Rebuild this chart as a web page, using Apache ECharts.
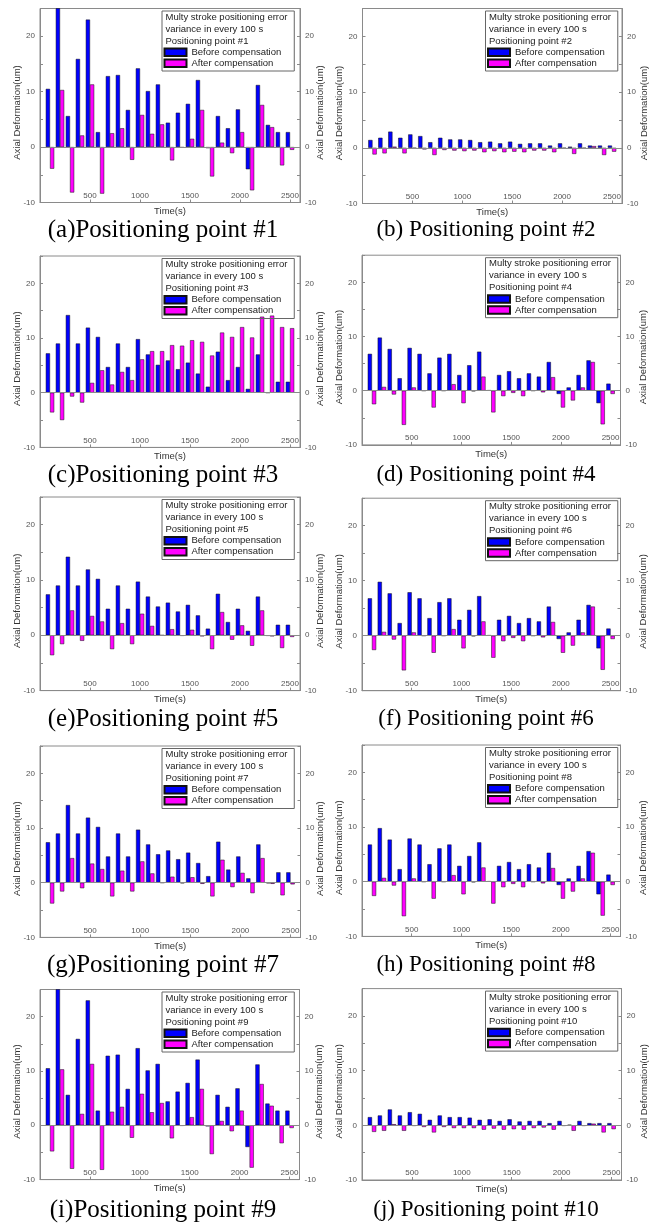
<!DOCTYPE html>
<html><head><meta charset="utf-8">
<script src="https://cdn.jsdelivr.net/npm/echarts@6/dist/echarts.min.js"></script>
<style>html,body{margin:0;padding:0;background:#fff}#c{width:659px;height:1225px}</style>
</head><body><div id="c"></div>
<script>
// ---- data ----
const times = [100,200,300,400,500,600,700,800,900,1000,1100,1200,1300,1400,1500,1600,1700,1800,1900,2000,2100,2200,2300,2400,2500];
const xTickLabels = [500,1000,1500,2000,2500];
const yTickLabels = [-10,0,10,20];
const seriesNames = ['Before compensation','After compensation'];
const headerLines = ['Multy stroke positioning error','variance in every 100 s'];
const pointNames = ['Positioning point #1','Positioning point #2','Positioning point #3','Positioning point #4','Positioning point #5','Positioning point #6','Positioning point #7','Positioning point #8','Positioning point #9','Positioning point #10'];
const captions = ['(a)Positioning point #1','(b) Positioning point #2','(c)Positioning point #3','(d) Positioning point #4','(e)Positioning point #5','(f) Positioning point #6','(g)Positioning point #7','(h) Positioning point #8','(i)Positioning point #9','(j) Positioning point #10'];

const before1 = [10.5, 26, 5.6, 15.9, 23.0, 2.7, 12.8, 13.0, 6.7, 14.2, 10.1, 11.3, 4.4, 6.2, 7.8, 12.1, -0.2, 5.6, 3.4, 6.8, -4.0, 11.2, 4.0, 2.7, 2.7];
const after1  = [-3.9, 10.3, -8.2, 2.1, 11.3, -8.4, 2.5, 3.4, -2.3, 5.8, 2.4, 4.1, -2.4, -0.1, 1.5, 6.7, -5.3, 0.8, -1.1, 2.7, -7.8, 7.6, 3.6, -3.3, -0.5];
const before2 = [1.4, 1.8, 2.9, 1.8, 2.4, 2.1, 1.0, 1.8, 1.5, 1.5, 1.4, 1.0, 1.1, 0.8, 1.1, 0.7, 0.8, 0.8, 0.4, 0.8, 0.2, 0.8, 0.4, 0.4, 0.4];
const after2  = [-1.2, -1.0, 0.2, -1.0, -0.1, -0.3, -1.3, -0.4, -0.5, -0.6, -0.5, -0.8, -0.6, -0.8, -0.7, -0.8, -0.5, -0.5, -0.8, -0.1, -1.1, -0.1, 0.3, -1.3, -0.7];
const before3 = [7.2, 9.0, 14.2, 9.0, 11.9, 10.2, 4.7, 9.0, 4.7, 9.8, 7.0, 5.1, 5.9, 4.3, 5.5, 3.5, 1.1, 7.5, 2.3, 4.7, 0.7, 7.0, 0.0, 2.0, 2.0];
const after3  = [-3.6, -5.0, -0.7, -1.8, 1.8, 4.1, 1.5, 3.8, 2.3, 6.1, 7.6, 7.6, 8.7, 8.6, 9.6, 9.3, 6.8, 11.0, 10.2, 12.0, 10.1, 13.9, 14.1, 12.0, 11.8];
const before4 = [6.8, 9.8, 7.7, 2.3, 7.9, 6.8, 3.2, 6.1, 6.8, 2.9, 4.7, 7.2, 0.1, 2.9, 3.6, 2.3, 3.2, 2.6, 5.3, -0.6, 0.6, 2.9, 5.6, -2.3, 1.3];
const after4  = [-2.5, 0.7, -0.7, -6.3, 0.6, 0.0, -3.1, 0.0, 1.2, -2.3, -0.1, 2.6, -4.0, -1.0, -0.4, -1.0, 0.0, -0.3, 2.5, -3.1, -1.8, 0.6, 5.3, -6.2, -0.6];
const before5 = [7.4, 9.0, 14.2, 9.0, 11.9, 10.2, 4.8, 9.0, 4.8, 9.7, 7.0, 5.2, 5.9, 4.3, 5.5, 3.6, 1.2, 7.5, 2.4, 4.8, 0.8, 7.0, -0.1, 1.9, 1.9];
const after5  = [-3.6, -1.6, 4.5, -1.0, 3.5, 2.5, -2.5, 2.2, -1.6, 3.9, 1.7, 0.0, 1.1, -0.1, 1.0, -0.2, -2.5, 4.2, -0.8, 1.8, -1.9, 4.5, -0.2, -2.3, -0.3];
const before6 = [6.8, 9.8, 7.7, 2.3, 7.9, 6.8, 3.2, 6.1, 6.8, 2.9, 4.7, 7.2, 0.1, 2.9, 3.6, 2.3, 3.2, 2.6, 5.3, -0.6, 0.6, 2.9, 5.6, -2.3, 1.3];
const after6  = [-2.6, 0.7, -0.7, -6.3, 0.6, 0.0, -3.1, 0.0, 1.2, -2.3, -0.1, 2.6, -4.0, -1.0, -0.4, -1.0, 0.0, -0.3, 2.5, -3.1, -1.8, 0.6, 5.3, -6.2, -0.6];
const before7 = [7.4, 9.0, 14.2, 9.0, 11.9, 10.2, 4.8, 9.0, 4.8, 9.7, 7.0, 5.2, 5.9, 4.3, 5.5, 3.6, 1.2, 7.5, 2.4, 4.8, 0.8, 7.0, -0.1, 1.9, 1.9];
const after7  = [-3.8, -1.6, 4.5, -1.0, 3.5, 2.5, -2.5, 2.2, -1.6, 3.9, 1.7, 0.0, 1.1, -0.1, 1.0, -0.2, -2.5, 4.2, -0.8, 1.8, -1.9, 4.5, -0.2, -2.3, -0.3];
const before8 = [6.8, 9.8, 7.7, 2.3, 7.9, 6.8, 3.2, 6.1, 6.8, 2.9, 4.7, 7.2, 0.1, 2.9, 3.6, 2.3, 3.2, 2.6, 5.3, -0.6, 0.6, 2.9, 5.6, -2.3, 1.3];
const after8  = [-2.6, 0.7, -0.7, -6.3, 0.6, 0.0, -3.1, 0.0, 1.2, -2.3, -0.1, 2.6, -4.0, -1.0, -0.4, -1.0, 0.0, -0.3, 2.5, -3.1, -1.8, 0.6, 5.3, -6.2, -0.6];
const before9 = [10.5, 26, 5.6, 15.9, 23.0, 2.7, 12.8, 13.0, 6.7, 14.2, 10.1, 11.3, 4.4, 6.2, 7.8, 12.1, -0.2, 5.6, 3.4, 6.8, -4.0, 11.2, 4.0, 2.7, 2.7];
const after9  = [-4.8, 10.3, -8.0, 2.1, 11.3, -8.2, 2.5, 3.4, -2.3, 5.8, 2.4, 4.1, -2.4, -0.1, 1.5, 6.7, -5.3, 0.8, -1.1, 2.7, -7.8, 7.6, 3.6, -3.3, -0.5];
const before10 = [1.5, 1.8, 2.9, 1.8, 2.4, 2.1, 1.0, 1.8, 1.5, 1.5, 1.4, 1.0, 1.1, 0.8, 1.1, 0.7, 0.8, 0.8, 0.4, 0.8, 0.1, 0.8, 0.4, 0.4, 0.4];
const after10  = [-1.2, -1.0, 0.2, -1.0, -0.1, -0.3, -1.3, -0.3, -0.5, -0.5, -0.5, -0.8, -0.6, -0.8, -0.7, -0.8, -0.5, -0.4, -0.8, -0.1, -1.0, -0.1, 0.3, -1.3, -0.7];

const beforeAll = [before1,before2,before3,before4,before5,before6,before7,before8,before9,before10];
const afterAll  = [after1,after2,after3,after4,after5,after6,after7,after8,after9,after10];

// ---- layout (pixels) ----
const grids = [
  {left:40, top:8.5, width:260, height:194},
  {left:362.5, top:8.5, width:259.5, height:195},
  {left:40, top:256, width:260, height:191.4},
  {left:362, top:255.2, width:258.5, height:189.7},
  {left:40, top:497, width:260, height:193.6},
  {left:362, top:498.2, width:258.5, height:192.5},
  {left:40, top:746, width:260.5, height:191.4},
  {left:362, top:745, width:258.5, height:191.4},
  {left:40, top:989.5, width:259.5, height:190.1},
  {left:362, top:988.6, width:259.5, height:191.4}
];
const capY = [230, 475, 719, 965, 1210];

const FONT = 'Liberation Sans, Arial, sans-serif';
const BLUE = '#0000ff', MAG = '#ff00ff';

const option = {
  backgroundColor:'#fff',
  animation:false,
  textStyle:{fontFamily:FONT},
  grid:[], xAxis:[], yAxis:[], series:[], legend:[], graphic:[]
};

grids.forEach((g, p) => {
  const isLeftCol = p % 2 === 0;
  option.grid.push({left:g.left, top:g.top, width:g.width, height:g.height, show:true,
    borderColor:'#8a8a8a', borderWidth:1, backgroundColor:'transparent', containLabel:false});
  option.xAxis.push({
    gridIndex:p, type:'value', min:0, max:2600, interval:500,
    axisLine:{onZero:false, lineStyle:{color:'#8a8a8a'}},
    axisTick:{show:true, inside:true, length:3, lineStyle:{color:'#8a8a8a'}},
    axisLabel:{inside:true, margin:3, fontSize:8, color:'#555',
      formatter:v => xTickLabels.indexOf(v) >= 0 ? String(v) : ''},
    splitLine:{show:false},
    name:'Time(s)', nameLocation:'middle', nameGap:4, nameMoveOverlap:false,
    nameTextStyle:{fontSize:9.5, color:'#333', verticalAlign:'top'}
  });
  const yBase = {
    gridIndex:p, type:'value', min:-10, max:25, interval:5,
    axisLine:{show:true, onZero:false, lineStyle:{color:'#8a8a8a'}},
    axisTick:{show:true, inside:true, length:3, lineStyle:{color:'#8a8a8a'}},
    axisLabel:{margin:5, fontSize:8, color:'#555',
      formatter:v => yTickLabels.indexOf(v) >= 0 ? String(v) : ''},
    splitLine:{show:false},
    name:'Axial Deformation(um)', nameLocation:'middle', nameRotate:90, nameMoveOverlap:false,
    nameTextStyle:{fontSize:9.5, color:'#333', padding:[0, 14, 0, 0]}
  };
  option.yAxis.push(Object.assign({}, yBase, {position:'left', nameGap:18}));
  option.yAxis.push(Object.assign({}, yBase, {position:'right', nameGap:isLeftCol ? 15 : 17.5}));

  option.series.push({
    type:'bar', name:seriesNames[0], xAxisIndex:p, yAxisIndex:2*p,
    data: times.map((t,i) => [t, beforeAll[p][i]]),
    barWidth:4.2, barGap:'0%', clip:true,
    itemStyle:{color:BLUE, borderColor:'#111', borderWidth:0.5},
    emphasis:{disabled:true},
    markLine:{silent:true, symbol:'none', label:{show:false},
      lineStyle:{color:'#8a8a8a', width:1, type:'solid'}, data:[{yAxis:0}]}
  });
  option.series.push({
    type:'bar', name:seriesNames[1], xAxisIndex:p, yAxisIndex:2*p,
    data: times.map((t,i) => [t, afterAll[p][i]]),
    barWidth:4.2, barGap:'0%', clip:true,
    itemStyle:{color:MAG, borderColor:'#111', borderWidth:0.5},
    emphasis:{disabled:true}
  });

  const boxL = isLeftCol ? 162 : 485.5;
  const boxT = g.top + 2.5;
  option.legend.push({
    left:boxL, top:boxT, orient:'vertical', data:seriesNames.slice(),
    icon:'rect', itemWidth:22, itemHeight:7.5, itemGap:0,
    padding:[35.8, 13, 2.2, 1.5], borderColor:'#666', borderWidth:1,
    selectedMode:false,
    textStyle:{fontSize:9.5, color:'#222', lineHeight:11, fontFamily:FONT}
  });
  option.graphic.push({
    type:'text', left:boxL + 3.5, top:boxT, silent:true, z:100,
    style:{text:headerLines.concat([pointNames[p]]).join('\n'),
      font:'9.5px ' + FONT, fill:'#222', lineHeight:12}
  });
  const capX = isLeftCol ? 163 : 486;
  const rowIdx = Math.floor(p / 2);
  option.graphic.push({
    type:'text', x:capX, y:capY[rowIdx], silent:true,
    style:{text:captions[p], align:'center', verticalAlign:'middle',
      font:(isLeftCol ? 25 : 23) + 'px "Liberation Serif", "Times New Roman", serif', fill:'#000'}
  });
});

const chart = echarts.init(document.getElementById('c'), null, {renderer:'canvas'});
chart.setOption(option);
</script>
</body></html>
